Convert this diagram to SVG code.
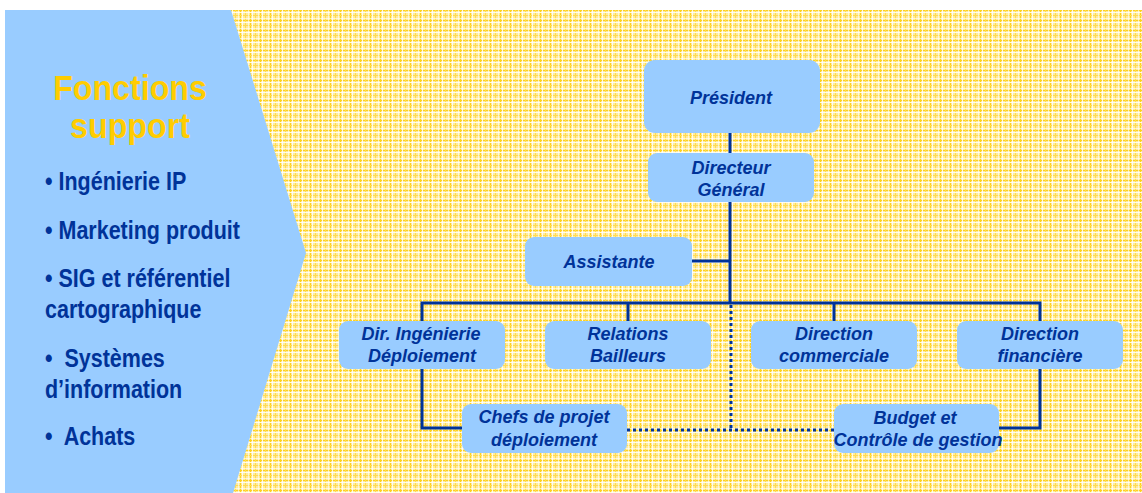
<svg xmlns="http://www.w3.org/2000/svg" width="1142" height="493" viewBox="0 0 1142 493">
<defs>
<pattern id="check" x="0" y="0" width="10" height="10" patternUnits="userSpaceOnUse">
<rect width="10" height="10" fill="#FFEC9C"/>
<rect x="0" y="0" width="1" height="10" fill="#FFD21F"/>
<rect x="0" y="0" width="10" height="1" fill="#FFD21F"/>
<rect x="5" y="0" width="1" height="10" fill="#FFDC55"/>
<rect x="0" y="5" width="10" height="1" fill="#FFDC55"/>
<rect x="2" y="0" width="1" height="10" fill="#FFFFFF" fill-opacity="0.85"/>
<rect x="0" y="2" width="10" height="1" fill="#FFFFFF" fill-opacity="0.85"/>
<rect x="8" y="0" width="1" height="10" fill="#FFFFFF" fill-opacity="0.6"/>
<rect x="0" y="8" width="10" height="1" fill="#FFFFFF" fill-opacity="0.6"/>
</pattern>
</defs>
<style>
.box{fill:#99CCFF;}
.lbl{font-family:"Liberation Sans",Arial,sans-serif;font-size:18px;font-weight:bold;font-style:italic;fill:#003399;text-anchor:middle;}
.side{font-family:"Liberation Sans",Arial,sans-serif;font-size:25px;font-weight:bold;fill:#003399;white-space:pre;}
.title{font-family:"Liberation Sans",Arial,sans-serif;font-size:35px;font-weight:bold;fill:#FFCC00;text-anchor:middle;}
.ln{stroke:#003399;stroke-width:3;fill:none;}
.dot{stroke:#003399;stroke-width:3;fill:none;stroke-dasharray:3 3;}
</style>
<rect x="0" y="0" width="1142" height="493" fill="#FFFFFF"/>
<rect x="5" y="10" width="1137" height="483" fill="url(#check)"/>
<polygon points="5,10 231,10 306,253 233,493 5,493" fill="#99CCFF"/>
<text class="title" transform="translate(130,100) scale(0.92,1)">Fonctions</text>
<text class="title" transform="translate(130,138) scale(0.92,1)">support</text>
<text class="side" transform="translate(45,190) scale(0.86,1)">• Ingénierie IP</text>
<text class="side" transform="translate(45,239) scale(0.86,1)">• Marketing produit</text>
<text class="side" transform="translate(45,287) scale(0.86,1)">• SIG et référentiel</text>
<text class="side" transform="translate(45,318) scale(0.86,1)">cartographique</text>
<text class="side" transform="translate(45,367) scale(0.86,1)">•&#160; Systèmes</text>
<text class="side" transform="translate(45,398) scale(0.86,1)">d’information</text>
<text class="side" transform="translate(45,445) scale(0.86,1)">•&#160; Achats</text>
<g id="connectors">
<line class="ln" x1="730" y1="133" x2="730" y2="153"/>
<line class="ln" x1="730" y1="202" x2="730" y2="304" stroke-width="3.5"/>
<line class="ln" x1="692" y1="261" x2="730" y2="261"/>
<polyline class="ln" points="422,321 422,303 1040,303 1040,321"/>
<line class="ln" x1="628" y1="303" x2="628" y2="321"/>
<line class="ln" x1="834" y1="303" x2="834" y2="321"/>
<polyline class="ln" points="422,369 422,428 462,428"/>
<polyline class="ln" points="1040,369 1040,428 999,428"/>
<polyline class="dot" points="731,305 731,429"/>
<polyline class="dot" points="627,430 834,430"/>
</g>
<g id="president"><rect class="box" x="644" y="60" width="176" height="73" rx="11"/><text class="lbl" x="731" y="104">Président</text></g>
<g id="dg"><rect class="box" x="648" y="153" width="166" height="49" rx="9"/><text class="lbl" x="731" y="174">Directeur</text><text class="lbl" x="731" y="196">Général</text></g>
<g id="assistante"><rect class="box" x="525" y="237" width="167" height="49" rx="9"/><text class="lbl" x="609" y="268">Assistante</text></g>
<g id="dir-ing"><rect class="box" x="339" y="321" width="166" height="48" rx="9"/><text class="lbl" x="421" y="340">Dir. Ingénierie</text><text class="lbl" x="422" y="362">Déploiement</text></g>
<g id="relations"><rect class="box" x="545" y="321" width="166" height="48" rx="9"/><text class="lbl" x="628" y="340">Relations</text><text class="lbl" x="628" y="362">Bailleurs</text></g>
<g id="dir-com"><rect class="box" x="751" y="321" width="166" height="48" rx="9"/><text class="lbl" x="834" y="340">Direction</text><text class="lbl" x="834" y="362">commerciale</text></g>
<g id="dir-fin"><rect class="box" x="957" y="321" width="166" height="48" rx="9"/><text class="lbl" x="1040" y="340">Direction</text><text class="lbl" x="1040" y="362">financière</text></g>
<g id="chefs"><rect class="box" x="462" y="404" width="165" height="49" rx="9"/><text class="lbl" x="544" y="423">Chefs de projet</text><text class="lbl" x="544" y="446">déploiement</text></g>
<g id="budget"><rect class="box" x="834" y="404" width="165" height="49" rx="9"/><text class="lbl" x="915" y="424">Budget et</text><text class="lbl" x="918" y="446">Contrôle de gestion</text></g>
</svg>
